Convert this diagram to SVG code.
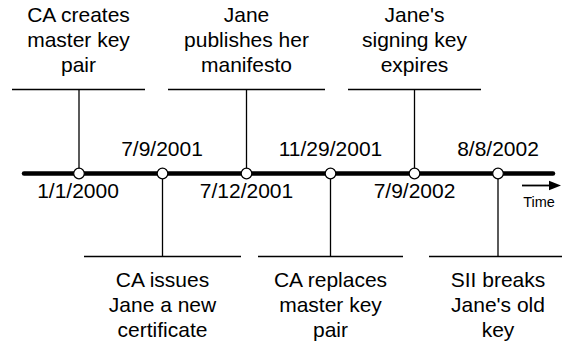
<svg xmlns="http://www.w3.org/2000/svg" width="562" height="346" viewBox="0 0 562 346">
<defs>
<style>
text{font-family:"Liberation Sans",Arial,Helvetica,sans-serif;font-size:21px;fill:#000;text-anchor:middle}
.t{font-size:14.5px}
.ln{stroke:#000;stroke-width:1.3;fill:none}
.axis{stroke:#000;stroke-width:4.5;stroke-linecap:round}
.dot{fill:#fff;stroke:#000;stroke-width:1.2}
</style>
</defs>
<rect width="562" height="346" fill="#fff"/>
<g id="connectors">
<line class="axis" x1="24" y1="173.5" x2="553" y2="173.5"/>
<line class="ln" x1="12" y1="89.5" x2="145" y2="89.5"/>
<line class="ln" x1="168" y1="89.5" x2="325" y2="89.5"/>
<line class="ln" x1="348" y1="89.5" x2="481" y2="89.5"/>
<line class="ln" x1="84" y1="256.5" x2="241" y2="256.5"/>
<line class="ln" x1="258" y1="256.5" x2="403" y2="256.5"/>
<line class="ln" x1="429" y1="256.5" x2="562" y2="256.5"/>
<line class="ln" x1="79" y1="89.5" x2="79" y2="173"/>
<line class="ln" x1="246.5" y1="89.5" x2="246.5" y2="173"/>
<line class="ln" x1="414.5" y1="89.5" x2="414.5" y2="173"/>
<line class="ln" x1="162.5" y1="173" x2="162.5" y2="256.5"/>
<line class="ln" x1="330.5" y1="173" x2="330.5" y2="256.5"/>
<line class="ln" x1="498" y1="173" x2="498" y2="256.5"/>
<line x1="522" y1="185.5" x2="552" y2="185.5" stroke="#000" stroke-width="1.8"/>
<polygon points="549,180.8 561,185.5 549,190.2" fill="#000"/>
</g>
<g id="e1">
<circle class="dot" cx="79" cy="173.5" r="5.3"/>
<text x="78.5" y="22">CA creates</text>
<text x="78.5" y="47">master key</text>
<text x="78.5" y="72">pair</text>
<text x="78" y="198">1/1/2000</text>
</g>
<g id="e2">
<circle class="dot" cx="162.5" cy="173.5" r="5.3"/>
<text x="162" y="156">7/9/2001</text>
<text x="162.5" y="286.5">CA issues</text>
<text x="162.5" y="311.5">Jane a new</text>
<text x="162.5" y="336.5">certificate</text>
</g>
<g id="e3">
<circle class="dot" cx="246.5" cy="173.5" r="5.3"/>
<text x="246.5" y="22">Jane</text>
<text x="246.5" y="47">publishes her</text>
<text x="246.5" y="72">manifesto</text>
<text x="246.5" y="198">7/12/2001</text>
</g>
<g id="e4">
<circle class="dot" cx="330.5" cy="173.5" r="5.3"/>
<text x="330.5" y="156">11/29/2001</text>
<text x="330.5" y="286.5">CA replaces</text>
<text x="330.5" y="311.5">master key</text>
<text x="330.5" y="336.5">pair</text>
</g>
<g id="e5">
<circle class="dot" cx="414.5" cy="173.5" r="5.3"/>
<text x="414.5" y="22">Jane's</text>
<text x="414.5" y="47">signing key</text>
<text x="414.5" y="72">expires</text>
<text x="414.5" y="198">7/9/2002</text>
</g>
<g id="e6">
<circle class="dot" cx="498" cy="173.5" r="5.3"/>
<text x="498" y="156">8/8/2002</text>
<text x="498" y="286.5">SII breaks</text>
<text x="498" y="311.5">Jane's old</text>
<text x="498" y="336.5">key</text>
</g>
<g id="time">
<text class="t" x="539" y="206.5">Time</text>
</g>
</svg>
